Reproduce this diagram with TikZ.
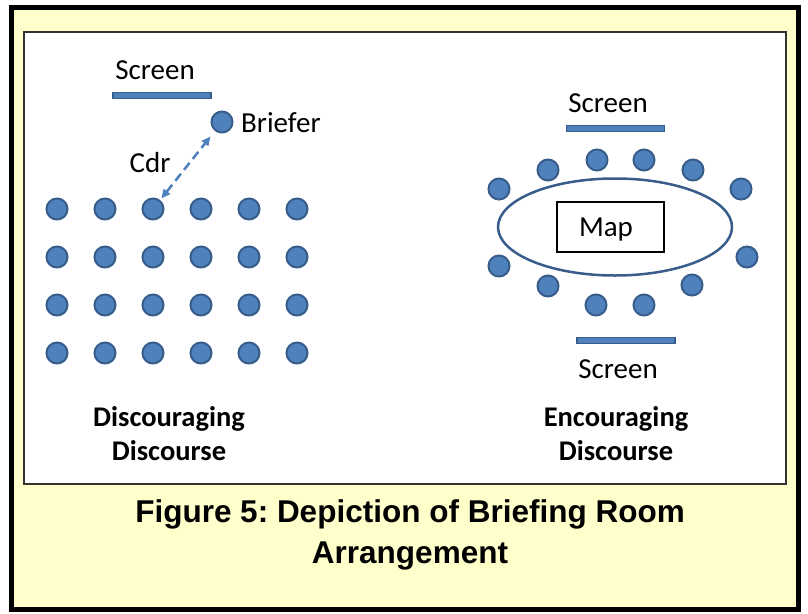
\documentclass[tikz,border=0pt]{standalone}
\usepackage{fontspec}
\setmainfont{Carlito}
\newfontfamily\capfont{Liberation Sans}
\usetikzlibrary{arrows.meta,shapes.geometric}
\frenchspacing
\definecolor{panel}{RGB}{255,255,204}
\definecolor{seatfill}{RGB}{79,129,189}
\definecolor{seatline}{RGB}{56,93,138}
\tikzset{
  seat/.style={circle,fill=seatfill,draw=seatline,line width=2pt,minimum size=21pt,inner sep=0pt},
  screenbar/.style={rectangle,fill=seatfill,draw=seatline,line width=1.2pt,minimum width=98pt,minimum height=6pt,inner sep=0pt},
  lbl/.style={font=\fontsize{29}{32}\selectfont,inner sep=0pt},
  title/.style={font=\fontsize{28.5}{34}\selectfont\bfseries,align=center,inner sep=0pt},
  talk/.style={{Triangle[length=9pt,width=8pt]}-{Triangle[length=9pt,width=8pt]},draw=seatfill,line width=2.5pt,dash pattern=on 9pt off 5pt}
}
\begin{document}
\begin{tikzpicture}[x=1pt,y=-1pt]
\useasboundingbox (0,0) rectangle (808,613);
% outer frame and inner panel
\draw[fill=panel,line width=5pt,draw=black] (11,7) rectangle (798,609);
\draw[fill=white,draw=black!80,line width=1.5pt] (24,32) rectangle (786,484);

% ---- left: rows of seats facing the screen ----
\node[screenbar] (scrL) at (162,95.5) {};
\node[lbl] (scrLlbl) at (155,70) {Screen};
\foreach \r/\y in {1/209,2/257,3/305,4/353}{
  \foreach \c/\x in {1/57,2/105,3/153,4/201,5/249,6/297}{
    \node[seat] (l\r\c) at (\x,\y) {};
  }
}
\node[seat] (briefer) at (222,122) {};
\node[lbl,anchor=west] (brieferlbl) at (241,123) {Briefer};
\node[lbl] (cdrlbl) at (150,163) {Cdr};
\draw[talk,shorten <=2pt,shorten >=7pt] (l13) -- (briefer);
\node[title] (leftcap) at (169,434) {Discouraging\\Discourse};

% ---- right: seats around the map table ----
\node[lbl] (scrTlbl) at (608,103) {Screen};
\node[screenbar] (scrT) at (615.5,128.5) {};
\node[ellipse,draw=seatline,line width=2.5pt,fill=white,minimum width=234pt,minimum height=97pt,inner sep=0pt] (table) at (615,227) {};
\node[rectangle,draw=black,line width=2.5pt,minimum width=107pt,minimum height=50pt,inner sep=0pt] (map) at (610.5,227) {};
\node[lbl] (maplbl) at (606,230) {Map};
\foreach \i/\x/\y in {1/499/189,2/548/170,3/597/160,4/644/160,5/693/170,6/741/189,
                      7/747/257,8/692/285,9/644/305,10/596/305,11/548/286,12/499/266}{
  \node[seat] (r\i) at (\x,\y) {};
}
\node[screenbar] (scrB) at (626,340.5) {};
\node[lbl] (scrBlbl) at (618,369) {Screen};
\node[title] (rightcap) at (616,434) {Encouraging\\Discourse};

% ---- caption ----
\node[font=\capfont\bfseries\fontsize{31.5}{41}\selectfont,align=center,inner sep=0pt] (caption) at (410,535)
  {Figure 5: Depiction of Briefing Room\\Arrangement};
\end{tikzpicture}
\end{document}
